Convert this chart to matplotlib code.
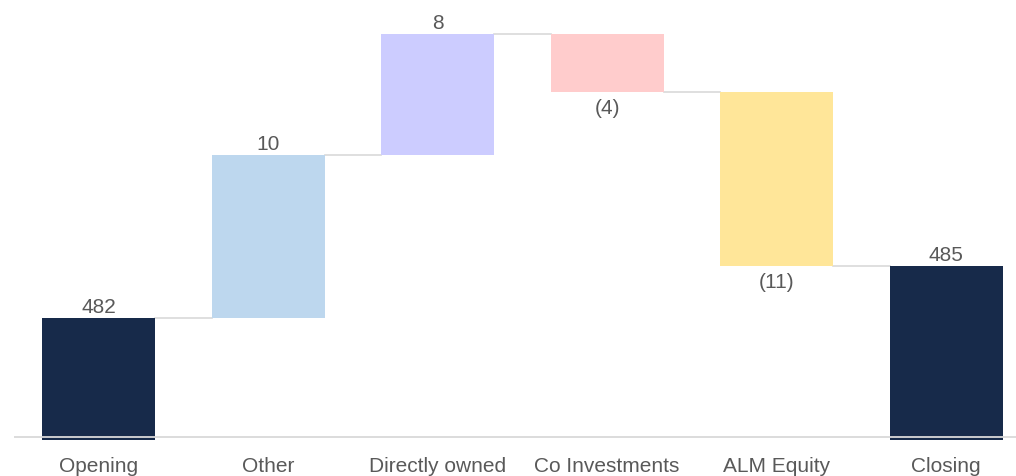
import numpy as np
import matplotlib.pyplot as plt

# données du waterfall
categories = ['Opening', 'Other', 'Directly owned', 'Co Investments', 'ALM Equity', 'Closing']
opening = 481.8
changes = [10.3, 7.7, -3.7, -11.0]
colors = ['#172a4a', '#bdd7ee', '#ccccff', '#ffcccc', '#ffe699', '#172a4a']

plt.rcParams['font.family'] = ['Liberation Sans', 'DejaVu Sans']

closing = opening + sum(changes)
ends = opening + np.cumsum(changes)
starts = np.concatenate([[opening], ends[:-1]])

fig = plt.figure(figsize=(10.16, 4.76), dpi=100)
ax = fig.add_axes([13.75 / 1016, 36 / 476, 6 * 169.5 / 1016, 440 / 476])

ymin, ymax = 474.07, 501.95
ax.set_ylim(ymin, ymax)
ax.set_xlim(-0.5, 5.5)
w = 113 / 169.5
x = np.arange(len(categories))
fs = 15

# barres
heights = [opening - ymin] + list(changes) + [closing - ymin]
bottoms = [ymin] + list(starts) + [ymin]
ax.bar(x, heights, bottom=bottoms, width=w, color=colors, zorder=2)

# lignes de liaison
levels = [opening] + list(ends)
for i, lv in enumerate(levels):
    ax.plot([x[i] + w / 2, x[i + 1] - w / 2], [lv, lv], color='#d9d9d9', lw=1.2, zorder=1)

# ligne de base
ax.axhline(474.29, color='#d9d9d9', lw=1.3, zorder=3)

# étiquettes
txt = '#595959'
ax.annotate(f'{opening:.0f}', (x[0], opening), xytext=(0, 1), textcoords='offset points',
            ha='center', va='bottom', fontsize=fs, color=txt)
for i, c in enumerate(changes):
    lab = f'{abs(c):.0f}' if c >= 0 else f'({abs(c):.0f})'
    if c >= 0:
        ax.annotate(lab, (x[i + 1], ends[i]), xytext=(0, 1), textcoords='offset points',
                    ha='center', va='bottom', fontsize=fs, color=txt)
    else:
        ax.annotate(lab, (x[i + 1], ends[i]), xytext=(0, -5), textcoords='offset points',
                    ha='center', va='top', fontsize=fs, color=txt)
ax.annotate(f'{closing:.0f}', (x[5], closing), xytext=(0, 1), textcoords='offset points',
            ha='center', va='bottom', fontsize=fs, color=txt)

ax.set_xticks(x)
ax.set_xticklabels(categories, fontsize=fs, color=txt)
ax.tick_params(axis='x', length=0, pad=12)
ax.set_yticks([])
for s in ax.spines.values():
    s.set_visible(False)

fig.savefig('out.png', dpi=100)
